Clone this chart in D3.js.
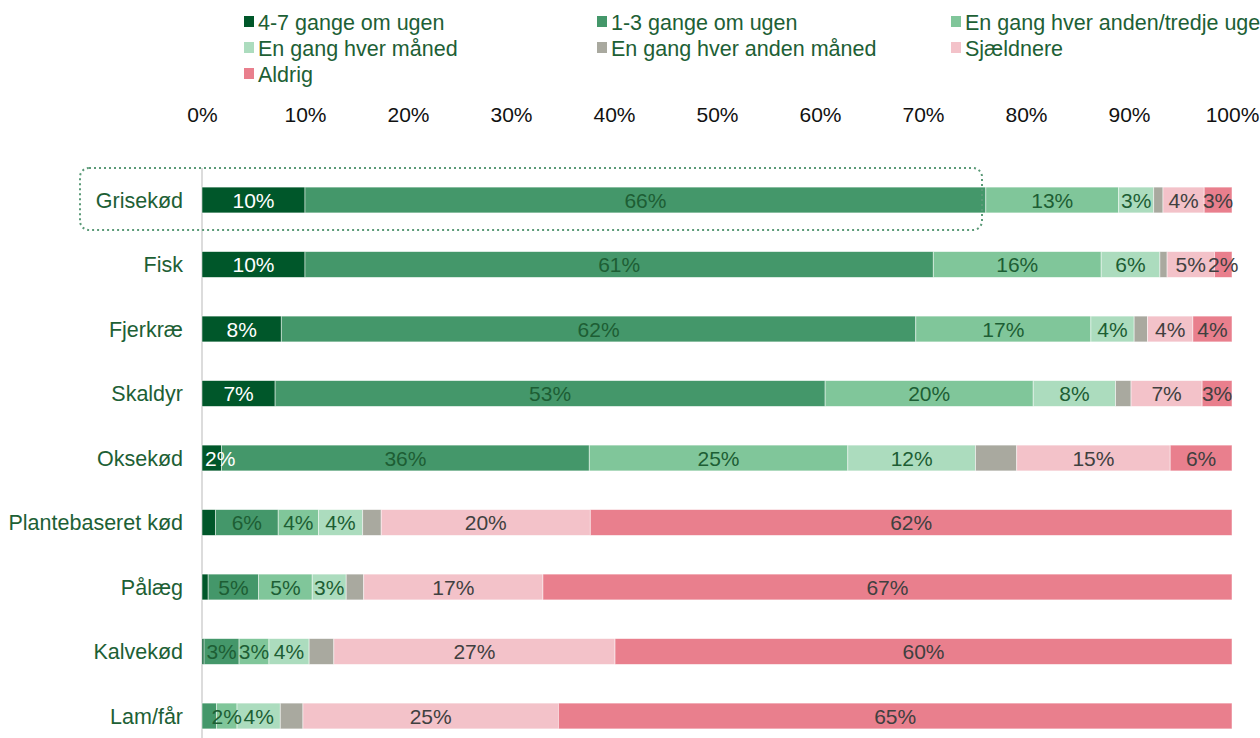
<!DOCTYPE html>
<html>
<head>
<meta charset="utf-8">
<script src="https://cdn.jsdelivr.net/npm/d3@7"></script>
<style>
  html, body { margin: 0; padding: 0; background: #fff; overflow: hidden; }
  svg { display: block; font-family: "Liberation Sans", Arial, sans-serif; }
</style>
</head>
<body>
<svg id="chart" width="1260" height="738"></svg>
<script>
// Food types, top to bottom
const categories = ["Grisekød", "Fisk", "Fjerkræ", "Skaldyr", "Oksekød",
  "Plantebaseret kød", "Pålæg", "Kalvekød", "Lam/får"];

// Frequency groups (stack order, left to right)
const seriesNames = ["4-7 gange om ugen", "1-3 gange om ugen", "En gang hver anden/tredje uge",
  "En gang hver måned", "En gang hver anden måned", "Sjældnere", "Aldrig"];

// Share of respondents (%) per food type, one array per frequency group
const s47Ugen      = [10.0, 10.0,  7.7,  7.1,  1.9,  1.3,  0.6,  0.2,  0.0];
const s13Ugen      = [66.1, 61.0, 61.6, 53.4, 35.7,  6.1,  4.9,  3.4,  1.4];
const sAndenTredje = [12.9, 16.3, 17.0, 20.2, 25.1,  3.9,  5.2,  2.9,  2.0];
const sMaaned      = [ 3.4,  5.7,  4.2,  8.0, 12.4,  4.3,  3.3,  3.9,  4.2];
const sAndenMaaned = [ 0.9,  0.7,  1.3,  1.5,  4.0,  1.8,  1.7,  2.4,  2.2];
const sSjaeldnere  = [ 4.0,  4.6,  4.4,  6.9, 14.9, 20.3, 17.4, 27.3, 24.8];
const sAldrig      = [ 2.7,  1.7,  3.8,  2.9,  6.0, 62.3, 66.9, 59.9, 65.4];

const tickValues = [0, 10, 20, 30, 40, 50, 60, 70, 80, 90, 100];

const seriesValues = [s47Ugen, s13Ugen, sAndenTredje, sMaaned, sAndenMaaned, sSjaeldnere, sAldrig];
const colors = ["#00572a", "#44976a", "#80c69a", "#acdcbe", "#a9a99f", "#f3c2c9", "#e97f8d"];
const labelColors = ["#ffffff", "#1d5e34", "#1d5e34", "#1d5e34", null, "#404040", "#404040"];

const rows = categories.map((c, i) => {
  const r = { category: c };
  seriesNames.forEach((s, j) => { r[s] = seriesValues[j][i]; });
  return r;
});

const svg = d3.select("#chart");
const textGreen = "#1d6035";
const fontSize = 21;
const legendFontSize = 21.5;

const x = d3.scaleLinear().domain([0, 100]).range([202, 1232]);
const y = d3.scaleBand().domain(categories).range([167.75, 748.25]).paddingInner(0.6).paddingOuter(0.3);

// Vertical baseline at 0%
svg.append("line")
  .attr("x1", x(0)).attr("x2", x(0))
  .attr("y1", 168).attr("y2", 738)
  .attr("stroke", "#dcdcdc").attr("stroke-width", 2);

// Top axis with percent ticks
const axis = svg.append("g")
  .attr("transform", "translate(0,122)")
  .call(d3.axisTop(x).tickValues(tickValues).tickFormat(d => d + "%").tickSize(0).tickPadding(0));
axis.select(".domain").remove();
axis.selectAll("text")
  .attr("font-size", fontSize).attr("fill", "#111")
  .attr("font-family", "'Liberation Sans', Arial, sans-serif");

// Category labels
svg.append("g").selectAll("text")
  .data(categories)
  .join("text")
  .attr("x", 183)
  .attr("y", d => y(d) + y.bandwidth() / 2)
  .attr("dy", "0.35em")
  .attr("text-anchor", "end")
  .attr("font-size", legendFontSize)
  .attr("fill", textGreen)
  .text(d => d);

// Stacked bars
const stacked = d3.stack().keys(seriesNames)(rows);

const groups = svg.append("g").selectAll("g")
  .data(stacked)
  .join("g")
  .attr("fill", (d, i) => colors[i]);

groups.selectAll("rect")
  .data(d => d.map(p => ({ p, key: d.key })))
  .join("rect")
  .attr("x", d => x(d.p[0]))
  .attr("y", d => y(d.p.data.category))
  .attr("width", d => Math.max(0, x(d.p[1]) - x(d.p[0])))
  .attr("height", y.bandwidth())
  .attr("stroke", "#ffffff")
  .attr("stroke-opacity", 0.6)
  .attr("stroke-width", 0.8);

// Segment value labels (kept inside the plot on the left side)
stacked.forEach((layer, i) => {
  if (!labelColors[i]) return;
  const labels = svg.append("g").selectAll("text")
    .data(layer.filter(p => (p[1] - p[0]) >= 1.5))
    .join("text")
    .attr("y", p => y(p.data.category) + y.bandwidth() / 2)
    .attr("dy", "0.36em")
    .attr("text-anchor", "middle")
    .attr("font-size", fontSize)
    .attr("fill", labelColors[i])
    .text(p => Math.round(p[1] - p[0]) + "%");
  labels.each(function (p) {
    const half = this.getComputedTextLength() / 2;
    const cx = Math.max((x(p[0]) + x(p[1])) / 2, x(0) + half + 3);
    d3.select(this).attr("x", cx);
  });
});

// Dotted highlight box around the first row
const hb = { x0: 80, x1: 982, y0: 168, y1: 230 };
svg.append("rect")
  .attr("x", hb.x0).attr("y", hb.y0)
  .attr("width", hb.x1 - hb.x0).attr("height", hb.y1 - hb.y0)
  .attr("rx", 9).attr("ry", 9)
  .attr("fill", "none")
  .attr("stroke", "#5b9a78")
  .attr("stroke-width", 2)
  .attr("stroke-dasharray", "2 3");

// Legend, three columns
const legendCols = [244, 597, 951];
const legend = svg.append("g").selectAll("g")
  .data(seriesNames)
  .join("g")
  .attr("transform", (d, i) => `translate(${legendCols[i % 3]},${22 + Math.floor(i / 3) * 26})`);
legend.append("rect")
  .attr("x", 0).attr("y", -6)
  .attr("width", 10).attr("height", 11)
  .attr("fill", (d, i) => colors[i]);
legend.append("text")
  .attr("x", 14).attr("y", 0)
  .attr("dy", "0.35em")
  .attr("font-size", legendFontSize)
  .attr("fill", textGreen)
  .text(d => d);
</script>
</body>
</html>
